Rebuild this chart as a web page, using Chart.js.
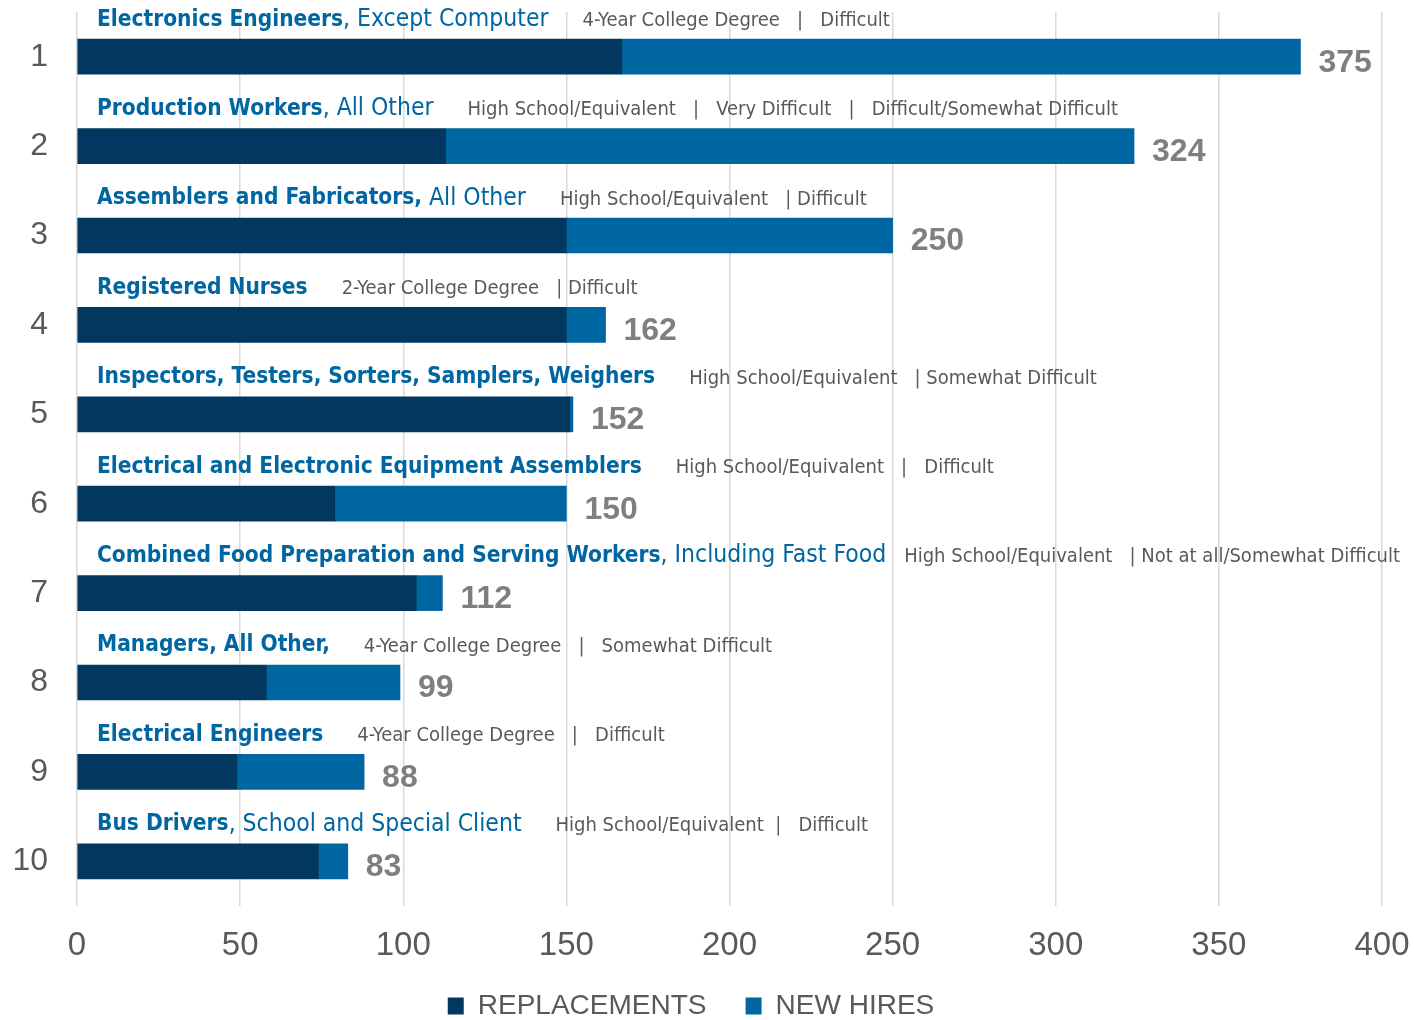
<!DOCTYPE html>
<html>
<head>
<meta charset="utf-8">
<script src="https://cdn.jsdelivr.net/npm/chart.js@4.4.1/dist/chart.umd.min.js"></script>
<style>
  body { margin: 0; background: #fff; }
  #wrap { width: 1414px; height: 1020px; }
</style>
</head>
<body>
<div id="wrap"><canvas id="jobs" width="1414" height="1020"></canvas></div>
<script>
// rank on the y axis, top to bottom
const ranks = ['1', '2', '3', '4', '5', '6', '7', '8', '9', '10'];

// occupation name: bold lead + plain qualifier
const occupations = [
    'Electronics Engineers',
    'Production Workers',
    'Assemblers and Fabricators,',
    'Registered Nurses',
    'Inspectors, Testers, Sorters, Samplers, Weighers',
    'Electrical and Electronic Equipment Assemblers',
    'Combined Food Preparation and Serving Workers',
    'Managers, All Other,',
    'Electrical Engineers',
    'Bus Drivers'
];
const qualifiers = [
    ', Except Computer',
    ', All Other',
    ' All Other',
    '',
    '',
    '',
    ', Including Fast Food',
    '',
    '',
    ', School and Special Client'
];

// education  |  difficulty to hire
const requirements = [
    '4-Year College Degree   |   Difficult',
    'High School/Equivalent   |   Very Difficult   |   Difficult/Somewhat Difficult',
    'High School/Equivalent   | Difficult',
    '2-Year College Degree   | Difficult',
    'High School/Equivalent   | Somewhat Difficult',
    'High School/Equivalent   |   Difficult',
    'High School/Equivalent   | Not at all/Somewhat Difficult',
    '4-Year College Degree   |   Somewhat Difficult',
    '4-Year College Degree   |   Difficult',
    'High School/Equivalent  |   Difficult'
];

const replacements = [167, 113, 150, 150, 151, 79, 104, 58, 49, 74];
const newHires     = [208, 211, 100, 12, 1, 71, 8, 41, 39, 9];

const xTicks = [0, 50, 100, 150, 200, 250, 300, 350, 400];

const NAVY = '#02385f';
const BLUE = '#0066a1';
const TEXT_GRAY = '#595959';
const TOTAL_GRAY = '#7f7f7f';
const COND = '"DejaVu Sans Condensed", "Liberation Sans Narrow", sans-serif';
const SANS = '"Liberation Sans", Arial, sans-serif';

// names above each bar and the total to its right
const rowLabels = {
    id: 'rowLabels',
    afterDatasetsDraw(chart) {
        const ctx = chart.ctx;
        const xs = chart.scales.x;
        const ys = chart.scales.y;
        ctx.save();
        ctx.textBaseline = 'middle';
        ctx.textAlign = 'left';
        for (let i = 0; i < ranks.length; i++) {
            const yc = ys.getPixelForValue(i);
            const ty = yc - 37;
            let x = xs.left + 20;

            ctx.fillStyle = BLUE;
            ctx.font = 'bold 22.5px ' + COND;
            ctx.fillText(occupations[i], x, ty);
            x += ctx.measureText(occupations[i]).width;
            ctx.font = '24.5px ' + COND;
            ctx.fillText(qualifiers[i], x, ty);
            x += ctx.measureText(qualifiers[i]).width;

            ctx.fillStyle = TEXT_GRAY;
            ctx.font = '20px ' + COND;
            const w = ctx.measureText(requirements[i]).width;
            let gx = x + 34;
            if (gx + w > chart.width - 14) gx = Math.max(x + 8, chart.width - 14 - w);
            ctx.fillText(requirements[i], gx, ty + 1);

            const total = replacements[i] + newHires[i];
            ctx.fillStyle = TOTAL_GRAY;
            ctx.font = 'bold 32px ' + SANS;
            ctx.fillText(String(total), xs.getPixelForValue(total) + 18, yc + 6);
        }
        ctx.restore();
    }
};

const chart = new Chart(document.getElementById('jobs'), {
    type: 'bar',
    data: {
        labels: ranks,
        datasets: [
            { label: 'REPLACEMENTS', data: replacements, backgroundColor: NAVY },
            { label: 'NEW HIRES', data: newHires, backgroundColor: BLUE }
        ]
    },
    options: {
        indexAxis: 'y',
        responsive: false,
        animation: false,
        barThickness: 35,
        layout: { padding: { top: 12, right: 32, left: 0, bottom: -10 } },
        scales: {
            x: {
                stacked: true,
                min: 0,
                max: 400,
                afterBuildTicks: (scale) => { scale.ticks = xTicks.map(v => ({ value: v })); },
                afterFit: (scale) => {
                    scale.height = 78;
                    scale.paddingLeft = 0;
                    scale.paddingRight = 0;
                },
                grid: { color: '#d9d9d9', lineWidth: 1.5, drawTicks: false },
                border: { display: false },
                ticks: {
                    color: TEXT_GRAY,
                    padding: 20,
                    font: { family: SANS, size: 33 }
                }
            },
            y: {
                stacked: true,
                grid: { display: false, drawTicks: false },
                border: { display: false },
                afterFit: (scale) => {
                    scale.width = 77;
                    scale.paddingTop = 0;
                    scale.paddingBottom = 0;
                },
                ticks: {
                    color: TEXT_GRAY,
                    padding: 29,
                    font: { family: SANS, size: 32 }
                }
            }
        },
        plugins: {
            legend: {
                position: 'bottom',
                labels: {
                    color: TEXT_GRAY,
                    boxWidth: 16,
                    boxHeight: 17,
                    padding: 8,
                    font: { family: SANS, size: 28 },
                    generateLabels: (c) => Chart.defaults.plugins.legend.labels.generateLabels(c)
                        .map((item, k) => Object.assign(item, { text: k === 0 ? item.text + '    ' : item.text }))
                }
            },
            tooltip: { enabled: false }
        }
    },
    plugins: [rowLabels]
});
</script>
</body>
</html>
